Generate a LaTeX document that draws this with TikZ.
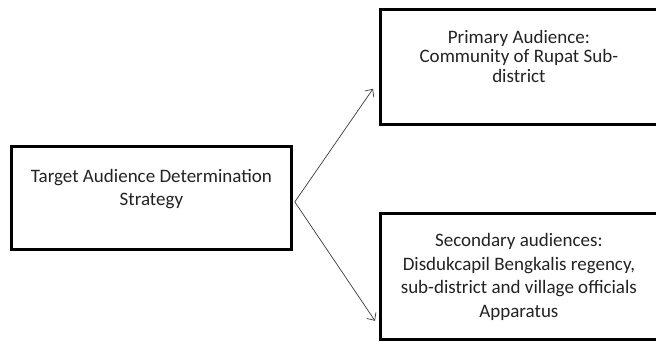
\documentclass[tikz,border=0pt]{standalone}
\usepackage{fontspec}
\setmainfont{Carlito}
\usetikzlibrary{arrows.meta,positioning,calc}
\definecolor{taInk}{HTML}{000000}
\definecolor{taText}{HTML}{222222}
\definecolor{taArrow}{HTML}{3A3A3A}
\tikzset{
  box/.style={draw=taInk, line width=2.8pt, inner sep=0pt, anchor=north west},
  txt/.style={text=taText, align=center, font=\fontsize{19}{23.5}\selectfont, inner sep=0pt},
  arr/.style={-{Straight Barb[length=6pt,width=11pt]}, line width=0.7pt, draw=taArrow},
}

\begin{document}
\begin{tikzpicture}[x=1pt, y=-1pt]
    \useasboundingbox (0,0) rectangle (656,342);
    % ---------- boxes ----------
    \node[box, minimum width=280pt, minimum height=103pt] (strat) at (10,145) {};
    \node[box, minimum width=277pt, minimum height=115pt] (prim) at (379,8) {};
    \node[box, minimum width=277pt, minimum height=126pt] (sec) at (379,212) {};
    % ---------- texts ----------
    \node[txt] (stratT) at ($(strat.north)+(0,44)$) {Target Audience Determination\\Strategy};
    \node[txt, font=\fontsize{19}{19.5}\selectfont] (primT) at ($(prim.north)+(0,48)$) {Primary Audience:\\Community of Rupat Sub-\\district};
    \node[txt] (secT) at ($(sec.north)+(0,65)$) {Secondary audiences:\\Disdukcapil Bengkalis regency,\\sub-district and village officials\\Apparatus};
    % ---------- arrows ----------
    \coordinate (primTip) at ($(prim.south west)+(-6,-37)$);
    \coordinate (secTip) at ($(sec.south west)+(-4,-20)$);
    \draw[arr] ($(strat.east)+(2,4)$) -- (primTip);
    \draw[arr] ($(strat.east)+(2,4)$) -- (secTip);
\end{tikzpicture}
\end{document}
